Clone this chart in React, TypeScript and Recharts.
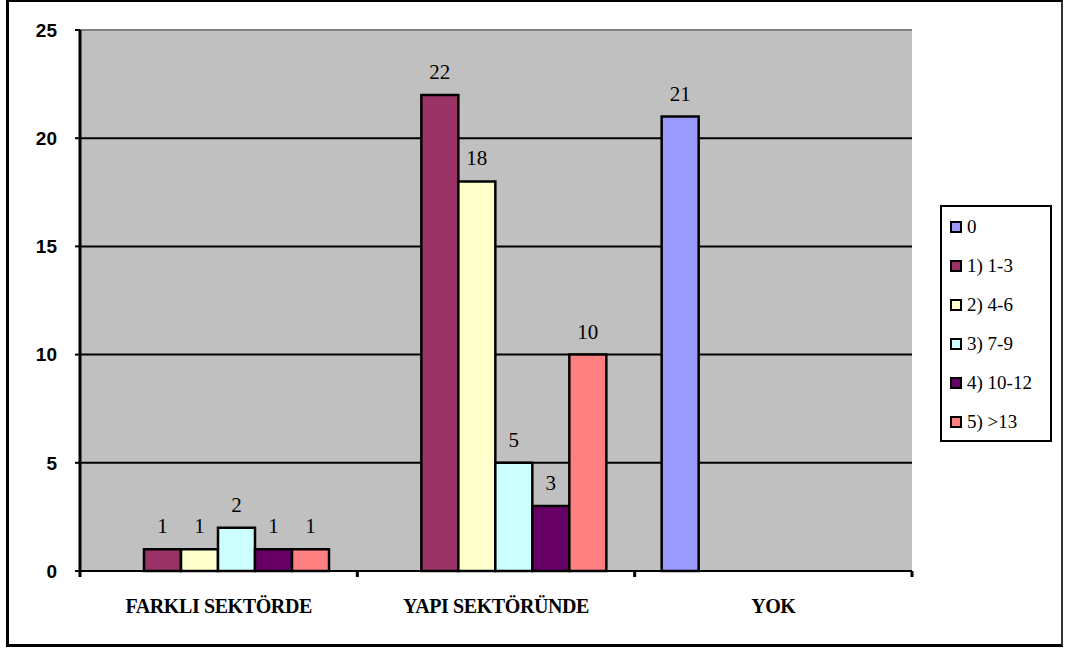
import React from 'react';
import {
  BarChart,
  Bar,
  XAxis,
  YAxis,
  CartesianGrid,
  LabelList,
  Legend,
} from 'recharts';

// categories on the x axis
const categories = ['FARKLI SEKTÖRDE', 'YAPI SEKTÖRÜNDE', 'YOK'];

// one array per series, in category order (null = no bar)
const s0 = [null, null, 21];
const s1to3 = [1, 22, null];
const s4to6 = [1, 18, null];
const s7to9 = [2, 5, null];
const s10to12 = [1, 3, null];
const sOver13 = [1, 10, null];

const yTicks = [0, 5, 10, 15, 20, 25];

const series = [
  { key: 's0', name: '0', values: s0, color: '#9999FF' },
  { key: 's1', name: '1) 1-3', values: s1to3, color: '#993366' },
  { key: 's2', name: '2) 4-6', values: s4to6, color: '#FFFFCC' },
  { key: 's3', name: '3) 7-9', values: s7to9, color: '#CCFFFF' },
  { key: 's4', name: '4) 10-12', values: s10to12, color: '#660066' },
  { key: 's5', name: '5) >13', values: sOver13, color: '#FF8080' },
];

const data = categories.map((cat, i) => {
  const row: Record<string, any> = { cat };
  series.forEach((s) => {
    row[s.key] = s.values[i];
  });
  return row;
});

const W = 1066;
const H = 650;
const margin = { top: 30, right: 154, bottom: 29, left: 0 };
const yAxisWidth = 80;
const xAxisHeight = 50;
const plotWidth = W - margin.left - margin.right - yAxisWidth;

const GridLine = (props: any) => {
  const isTop = props.y1 === props.y;
  return (
    <line
      x1={props.x1}
      y1={props.y1}
      x2={props.x2}
      y2={props.y2}
      stroke={isTop ? '#808080' : '#000'}
      strokeWidth={2}
    />
  );
};

const CategoryTick = (props: any) => {
  const { x, y, payload, index } = props;
  const half = payload?.offset || plotWidth / categories.length / 2;
  const last = index === categories.length - 1;
  return (
    <g>
      <line x1={x - half} y1={y} x2={x - half} y2={y + 6} stroke="#000" strokeWidth={3} />
      {last && <line x1={x + half} y1={y} x2={x + half} y2={y + 6} stroke="#000" strokeWidth={3} />}
      <text
        x={x}
        y={y + 42}
        textAnchor="middle"
        fill="#000"
        fontFamily="'Liberation Serif', serif"
        fontWeight="bold"
        fontSize={20}
        letterSpacing={-0.4}
      >
        {payload.value}
      </text>
    </g>
  );
};

const LegendBox = () => (
  <div
    style={{
      width: 108,
      height: 233,
      border: '2px solid #000',
      background: '#fff',
      fontFamily: "'Liberation Serif', serif",
      fontSize: 19,
      color: '#000',
      boxSizing: 'content-box',
    }}
  >
    {series.map((s, i) => (
      <div
        key={s.key}
        style={{
          position: 'absolute',
          left: 10,
          top: 11 + i * 39,
          display: 'flex',
          alignItems: 'center',
          whiteSpace: 'nowrap',
          height: 22,
        }}
      >
        <span
          style={{
            display: 'inline-block',
            width: 8,
            height: 8,
            background: s.color,
            border: '2px solid #000',
            marginRight: 5,
          }}
        />
        <span>{s.name}</span>
      </div>
    ))}
  </div>
);

export default function App() {
  return (
    <div style={{ position: 'absolute', left: 0, top: 0, width: W, height: H, background: '#fff' }}>
      <div
        style={{
          position: 'absolute',
          left: 6,
          top: 0,
          width: 1052,
          height: 642,
          borderLeft: '3px solid #000',
          borderTop: '2px solid #000',
          borderBottom: '3px solid #000',
          borderRight: '2px solid #333',
        }}
      />
      <BarChart
        width={W}
        height={H}
        data={data}
        margin={margin}
        barCategoryGap={27}
        barGap={0}
        style={{ position: 'absolute', left: 0, top: 0 }}
      >
        <CartesianGrid
          vertical={false}
          horizontal={GridLine as any}
          fill="#C0C0C0"
          fillOpacity={1}
        />
        <XAxis
          dataKey="cat"
          height={xAxisHeight}
          tickLine={false}
          tickSize={0}
          tickMargin={0}
          axisLine={{ stroke: '#000', strokeWidth: 2 }}
          tick={<CategoryTick />}
          interval={0}
        />
        <YAxis
          width={yAxisWidth}
          domain={[0, 25]}
          ticks={yTicks}
          interval={0}
          tickSize={5}
          tickMargin={18}
          axisLine={{ stroke: '#000', strokeWidth: 3 }}
          tickLine={{ stroke: '#000', strokeWidth: 2 }}
          tick={{ fill: '#000', fontFamily: "'Liberation Sans', Arial, sans-serif", fontWeight: 'bold', fontSize: 19 }}
        />
        <YAxis
          yAxisId="right"
          orientation="right"
          width={0}
          domain={[0, 25]}
          tick={false}
          tickLine={false}
          axisLine={{ stroke: '#808080', strokeWidth: 2 }}
        />
        <Legend
          layout="vertical"
          align="center"
          verticalAlign="middle"
          content={<LegendBox />}
          wrapperStyle={{ position: 'absolute', left: 940, top: 205, width: 112, height: 237 }}
        />
        {series.map((s) => (
          <Bar
            key={s.key}
            dataKey={s.key}
            name={s.name}
            fill={s.color}
            stroke="#000"
            strokeWidth={2.5}
            isAnimationActive={false}
          >
            <LabelList
              dataKey={s.key}
              position="top"
              offset={16}
              fill="#000"
              fontFamily="'Liberation Serif', serif"
              fontSize={21}
            />
          </Bar>
        ))}
      </BarChart>
    </div>
  );
}
